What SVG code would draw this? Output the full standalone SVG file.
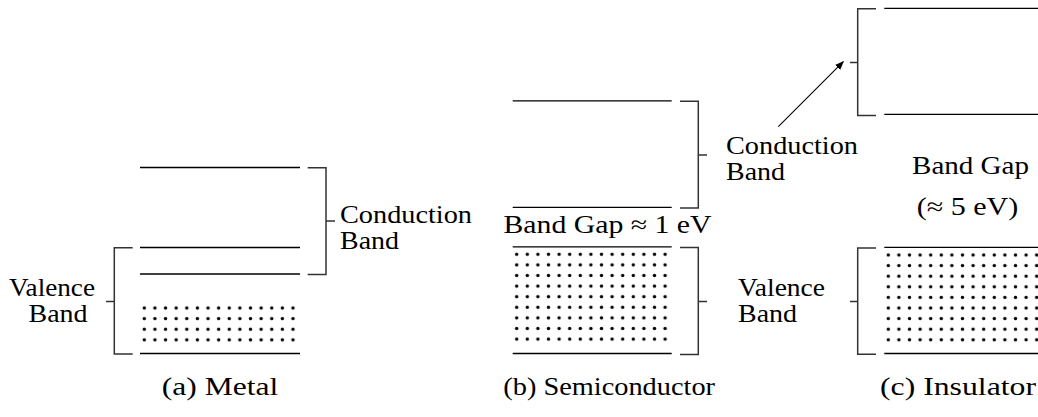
<svg xmlns="http://www.w3.org/2000/svg" width="1038" height="417" viewBox="0 0 1038 417">
<style>
.band{stroke:#000;stroke-width:1.3;fill:none}
.br{stroke:#333;stroke-width:1.5;fill:none}
.t{font-family:'Liberation Serif','Times New Roman',Times,Tinos,'DejaVu Serif','Noto Serif',FreeSerif,serif;font-size:25px;fill:#000}
</style>
<defs>
<pattern id="dotsA" patternUnits="userSpaceOnUse" x="139" y="302.7" width="10.62" height="10.62"><circle cx="5.31" cy="5.31" r="1.7" fill="#000"/></pattern>
<pattern id="dotsB" patternUnits="userSpaceOnUse" x="511.4" y="249" width="10.6" height="10.6"><circle cx="5.3" cy="5.3" r="1.7" fill="#000"/></pattern>
<pattern id="dotsC" patternUnits="userSpaceOnUse" x="883" y="249.7" width="10.6" height="10.6"><circle cx="5.3" cy="5.3" r="1.7" fill="#000"/></pattern>
<marker id="ah" viewBox="0 0 10 10" refX="9" refY="5" markerWidth="9" markerHeight="9" markerUnits="userSpaceOnUse" orient="auto"><path d="M0,1 L10,5 L0,9 Z" fill="#000"/></marker>
</defs>

<g id="metal">
<path class="band" d="M140,167.5H300M140,247.5H300M140,274H300M140,353.5H300"/>
<rect x="139" y="302.7" width="159.3" height="42.5" fill="url(#dotsA)"/>
<path class="br" d="M307.7,167.7H326V274.5H307.7M326,221H335"/>
<path class="br" d="M132.7,247.7H114.3V354H132.7M114.3,301.5H106"/>
<g class="t">
<text x="9" y="295.5" textLength="86" lengthAdjust="spacingAndGlyphs">Valence</text>
<text x="28.5" y="321.5" textLength="59" lengthAdjust="spacingAndGlyphs">Band</text>
<text x="340" y="223" textLength="132" lengthAdjust="spacingAndGlyphs">Conduction</text>
<text x="340" y="248.5" textLength="59" lengthAdjust="spacingAndGlyphs">Band</text>
<text x="161.7" y="395" textLength="116.6" lengthAdjust="spacingAndGlyphs">(a) Metal</text>
</g>
</g>

<g id="semiconductor">
<path class="band" d="M512.7,100.8H671.7M512.7,207.3H671.7M512.7,246.8H671.7M512.7,353.5H671.7"/>
<rect x="511.4" y="249" width="159" height="95.4" fill="url(#dotsB)"/>
<path class="br" d="M680,101.2H698.3V208H680M698.3,155H707"/>
<path class="br" d="M680,247.5H698.3V354.5H680M698.3,301.5H707"/>
<g class="t">
<text x="503.5" y="233" textLength="208" lengthAdjust="spacingAndGlyphs">Band Gap ≈ 1 eV</text>
<text x="726" y="154" textLength="132" lengthAdjust="spacingAndGlyphs">Conduction</text>
<text x="726" y="180" textLength="59" lengthAdjust="spacingAndGlyphs">Band</text>
<text x="503.3" y="395" textLength="211.7" lengthAdjust="spacingAndGlyphs">(b) Semiconductor</text>
</g>
</g>

<g id="insulator">
<path class="band" d="M884.3,8.3H1040M884.3,114.3H1040M884.3,247.3H1040M884.3,353.5H1040"/>
<rect x="883" y="249.7" width="159" height="95.4" fill="url(#dotsC)"/>
<path class="br" d="M876,8.7H857.7V115.5H876M857.7,62.5H850"/>
<path class="br" d="M876,248H857.7V354.3H876M857.7,301.5H850"/>
<g class="t">
<text x="912" y="174" textLength="117" lengthAdjust="spacingAndGlyphs">Band Gap</text>
<text x="916.7" y="215" textLength="101.6" lengthAdjust="spacingAndGlyphs">(≈ 5 eV)</text>
<text x="738" y="295.5" textLength="87" lengthAdjust="spacingAndGlyphs">Valence</text>
<text x="738" y="321.5" textLength="59" lengthAdjust="spacingAndGlyphs">Band</text>
<text x="880" y="395" textLength="156" lengthAdjust="spacingAndGlyphs">(c) Insulator</text>
</g>
</g>

<g id="connectors">
<line x1="778.3" y1="126.7" x2="843.3" y2="61.7" stroke="#000" stroke-width="1.1" marker-end="url(#ah)"/>
</g>
</svg>
